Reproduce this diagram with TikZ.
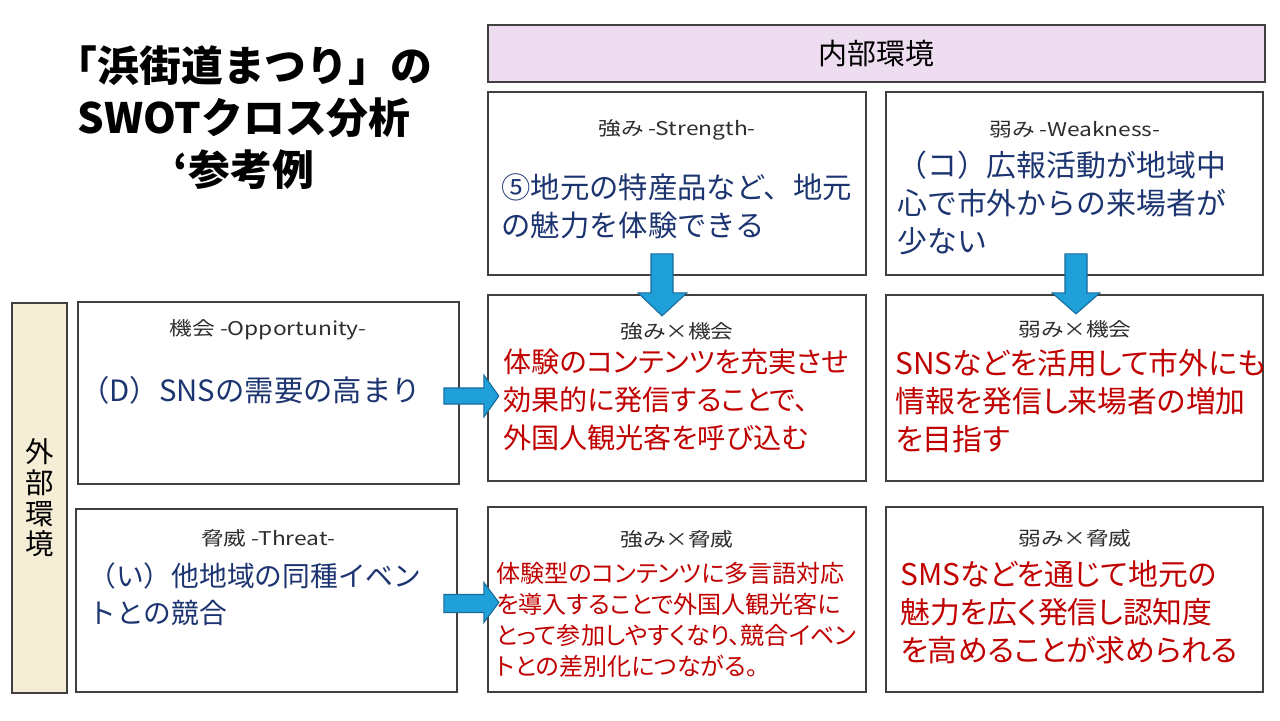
\documentclass[tikz,border=0pt]{standalone}
\usepackage{fontspec}
\setmainfont{Noto Sans CJK JP}[RawFeature=+palt]
\newfontfamily\ttlfont{Noto Sans CJK JP}
\newfontfamily\fwfont{Noto Sans CJK JP}
\newfontfamily\hdfont{Noto Sans CJK JP}[FakeStretch=1.2,RawFeature=+palt]
\usepackage{tikz}
\usetikzlibrary{calc}
\usepackage{color}
\definecolor{edge}{RGB}{64,64,64}
\definecolor{innfill}{RGB}{238,221,240}
\definecolor{extfill}{RGB}{245,237,213}
\definecolor{navy}{RGB}{28,52,112}
\definecolor{redtxt}{RGB}{192,0,0}
\definecolor{hdgray}{RGB}{45,45,45}
\definecolor{arrfill}{RGB}{32,160,216}
\definecolor{arredge}{RGB}{25,105,155}

\begin{document}
\begin{tikzpicture}[x=0.02cm,y=-0.02cm,
box/.style={draw=edge, line width=1pt, inner sep=0pt},
hd/.style={text=hdgray, inner sep=0pt, font=\hdfont\fontsize{10.8}{13}\selectfont},
body/.style={anchor=west, align=left, inner sep=0pt, font=\fontsize{17}{21.6}\selectfont},
barrow/.style={fill=arrfill, draw=arredge, line width=0.6pt, line join=miter}]
\useasboundingbox (0,0) rectangle (1280,720);
\node (ttl) at (244,118) [align=center, inner sep=0pt, font=\ttlfont\bfseries\fontsize{23.8}{29.6}\selectfont] {「浜街道まつり」の\\SWOTクロス分析\\‘参考例};
\node (inn) at (876.5,53.5) [box, fill=innfill, minimum width=15.54cm, minimum height=1.14cm, font=\fontsize{16.5}{18}\selectfont] {内部環境};
\node (str) at (677,183.5) [box, minimum width=7.56cm, minimum height=3.66cm] {};
\node (wea) at (1074.5,183.5) [box, minimum width=7.54cm, minimum height=3.66cm] {};
\node (so) at (677,388) [box, minimum width=7.56cm, minimum height=3.72cm] {};
\node (wo) at (1074.5,388) [box, minimum width=7.54cm, minimum height=3.72cm] {};
\node (st) at (677,599.5) [box, minimum width=7.56cm, minimum height=3.7cm] {};
\node (wt) at (1074.5,599.5) [box, minimum width=7.54cm, minimum height=3.7cm] {};
\node (ext) at (39.5,498) [box, fill=extfill, minimum width=1.1cm, minimum height=7.8cm] {};
\node (op) at (268.5,393) [box, minimum width=7.62cm, minimum height=3.64cm] {};
\node (th) at (266.5,600.5) [box, minimum width=7.62cm, minimum height=3.66cm] {};
\node (extT) at (ext) [align=center, inner sep=0pt, font=\fontsize{16.2}{17.4}\selectfont] {外\\部\\環\\境};
\node (strH) at (677,130) [hd] {強み -Strength-};
\node (weaH) at (1075,130) [hd] {弱み -Weakness-};
\node (soH) at (677,331) [hd] {強み×機会};
\node (woH) at (1075,329) [hd] {弱み×機会};
\node (stH) at (677,539) [hd] {強み×脅威};
\node (wtH) at (1075,538) [hd] {弱み×脅威};
\node (opH) at (268,330) [hd] {機会 -Opportunity-};
\node (thH) at (268,538) [hd] {脅威 -Threat-};
\node (strT) at (501,206) [body, text=navy, font=\fwfont\fontsize{16.7}{21.6}\selectfont] {⑤地元の特産品など、地元\\の魅力を体験できる};
\node (weaT) at (897,203) [body, text=navy, font=\fwfont\fontsize{17}{21.6}\selectfont] {（コ）広報活動が地域中\\心で市外からの来場者が\\少ない};
\node (opT) at (80,390) [body, text=navy, font=\fwfont\fontsize{16.7}{21}\selectfont] {（D）SNSの需要の高まり};
\node (thT) at (88,594) [body, text=navy, font=\fwfont\fontsize{15.8}{21}\selectfont] {（い）他地域の同種イベン\\トとの競合};
\node (soT) at (503,400) [body, text=redtxt, font=\fontsize{16}{21.6}\selectfont] {体験のコンテンツを充実させ\\効果的に発信することで、\\外国人観光客を呼び込む};
\node (woT) at (895,401) [body, text=redtxt] {SNSなどを活用して市外にも\\情報を発信し来場者の増加\\を目指す};
\node (stT) at (496,620) [body, text=redtxt, font=\fontsize{13.7}{17.6}\selectfont] {体験型のコンテンツに多言語対応\\を導入することで外国人観光客に\\とって参加しやすくなり、競合イベン\\トとの差別化につながる。};
\node (wtT) at (900,612) [body, text=redtxt] {SMSなどを通じて地元の\\魅力を広く発信し認知度\\を高めることが求められる};
\draw[barrow] ($(str.south)+(-26,-22)$) -- ++(22,0) -- ++(0,39) -- ++(14,0) -- ++(-25,23) -- ++(-24,-23) -- ++(13,0) -- cycle;
\draw[barrow] ($(wea.south)+(-9.5,-22)$) -- ++(22,0) -- ++(0,39) -- ++(13,0) -- ++(-24,21) -- ++(-24,-21) -- ++(13,0) -- cycle;
\draw[barrow] ($(op.east)+(-16,-5)$) -- ++(40,0) -- ++(0,-13) -- ++(15,21) -- ++(-15,21) -- ++(0,-13) -- ++(-40,0) -- cycle;
\draw[barrow] ($(th.east)+(-14,-6)$) -- ++(40,0) -- ++(0,-12) -- ++(15,20) -- ++(-15,20) -- ++(0,-10) -- ++(-40,0) -- cycle;
\end{tikzpicture}
\end{document}
